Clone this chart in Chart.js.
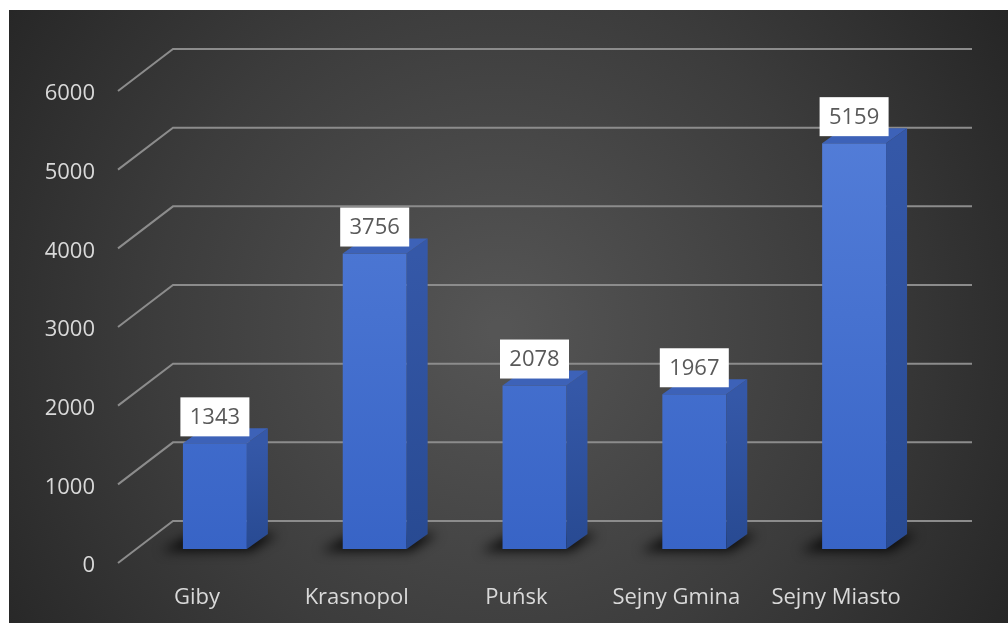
<!DOCTYPE html>
<html>
<head>
<meta charset="utf-8">
<script src="https://cdn.jsdelivr.net/npm/chart.js@4.4.1/dist/chart.umd.min.js"></script>
<style>
  html, body { margin: 0; padding: 0; background: #fff; }
  #wrap { position: relative; width: 1008px; height: 623px; }
</style>
</head>
<body>
<div id="wrap"><canvas id="c" width="1008" height="623"></canvas></div>
<script>
// ── Data ──────────────────────────────────────────────────────────────────────

const categories = ["Giby", "Krasnopol", "Puńsk", "Sejny Gmina", "Sejny Miasto"];
const values     = [1343, 3756, 2078, 1967, 5159];
const yTicks     = [0, 1000, 2000, 3000, 4000, 5000, 6000];

// ── Look ──────────────────────────────────────────────────────────────────────

const FONT   = "'Open Sans', 'Noto Sans', sans-serif";
const LABEL  = "#d9d9d9";
const GRID   = "#8c8c8c";
const DEPTH  = { dx: 21, dy: -15 };      // bar extrusion
const WALL   = { front: 14, back: -28, dx: 55 }; // floor/wall projection

// dark radial backdrop with white margin top/left
const backdrop = {
  id: "backdrop",
  beforeDraw(chart) {
    const { ctx, width, height } = chart;
    ctx.save();
    ctx.fillStyle = "#fff";
    ctx.fillRect(0, 0, width, height);
    const g = ctx.createRadialGradient(500, 330, 10, 500, 330, 620);
    g.addColorStop(0, "#555555");
    g.addColorStop(0.55, "#3c3c3c");
    g.addColorStop(1, "#242424");
    ctx.fillStyle = g;
    ctx.fillRect(9, 10, width - 9, height - 10);
    ctx.restore();
  },
};

// back-wall gridlines with the diagonal floor segment
const wallGrid = {
  id: "wallGrid",
  beforeDatasetsDraw(chart) {
    const { ctx } = chart;
    const y = chart.scales.y;
    const left = chart.chartArea.left;
    ctx.save();
    ctx.strokeStyle = GRID;
    ctx.lineWidth = 2;
    yTicks.forEach(v => {
      const p = y.getPixelForValue(v);
      ctx.beginPath();
      ctx.moveTo(left - 17, p + WALL.front);
      ctx.lineTo(left - 17 + WALL.dx, p + WALL.back);
      ctx.lineTo(972, p + WALL.back);
      ctx.stroke();
    });

    // soft shadows under the bars
    const meta = chart.getDatasetMeta(0);
    meta.data.forEach(bar => {
      const half = bar.width / 2;
      ctx.save();
      ctx.filter = "blur(6px)";
      ctx.fillStyle = "rgba(0,0,0,0.85)";
      ctx.beginPath();
      ctx.moveTo(bar.x - half - 22, bar.base + 2);
      ctx.lineTo(bar.x + half + 4, bar.base + 2);
      ctx.lineTo(bar.x + half + DEPTH.dx + 10, bar.base + DEPTH.dy);
      ctx.lineTo(bar.x - half + 10, bar.base + DEPTH.dy);
      ctx.closePath();
      ctx.fill();
      ctx.restore();
    });
    ctx.restore();
  },
};

// side + top faces and value boxes
const bars3d = {
  id: "bars3d",
  afterDatasetsDraw(chart) {
    const { ctx } = chart;
    const meta = chart.getDatasetMeta(0);
    ctx.save();
    meta.data.forEach((bar, i) => {
      const l = bar.x - bar.width / 2, r = bar.x + bar.width / 2;
      const t = bar.y, b = bar.base;

      const side = ctx.createLinearGradient(0, t, 0, b);
      side.addColorStop(0, "#3558a8");
      side.addColorStop(1, "#284a92");
      ctx.fillStyle = side;
      ctx.beginPath();
      ctx.moveTo(r, t);
      ctx.lineTo(r + DEPTH.dx, t + DEPTH.dy);
      ctx.lineTo(r + DEPTH.dx, b + DEPTH.dy);
      ctx.lineTo(r, b);
      ctx.closePath();
      ctx.fill();

      ctx.fillStyle = "#3d62b8";
      ctx.beginPath();
      ctx.moveTo(l, t);
      ctx.lineTo(l + DEPTH.dx, t + DEPTH.dy);
      ctx.lineTo(r + DEPTH.dx, t + DEPTH.dy);
      ctx.lineTo(r, t);
      ctx.closePath();
      ctx.fill();

      // value label box
      const bw = 69, bh = 39;
      ctx.fillStyle = "#fff";
      ctx.fillRect(bar.x - bw / 2, t - 7 - bh, bw, bh);
      ctx.fillStyle = "#595959";
      ctx.font = `22px ${FONT}`;
      ctx.textAlign = "center";
      ctx.textBaseline = "middle";
      ctx.fillText(String(values[i]), bar.x, t - 7 - bh / 2 + 1);
    });
    ctx.restore();
  },
};

// ── Chart ─────────────────────────────────────────────────────────────────────

const ctx = document.getElementById("c").getContext("2d");

function frontFill(context) {
  const { chart } = context;
  const area = chart.chartArea;
  if (!area) return "#4470d0";
  const el = context.element;
  const top = el && el.y != null ? el.y : area.top;
  const bottom = el && el.base != null ? el.base : area.bottom;
  const g = chart.ctx.createLinearGradient(0, top, 0, bottom);
  g.addColorStop(0, "#5680da");
  g.addColorStop(1, "#3864c6");
  return g;
}

new Chart(ctx, {
  type: "bar",
  data: {
    labels: categories,
    datasets: [{
      data: values,
      backgroundColor: frontFill,
      borderWidth: 0,
      barPercentage: 0.4,
      categoryPercentage: 1,
    }],
  },
  options: {
    responsive: false,
    animation: false,
    layout: { padding: { left: 0, right: 74, top: 77, bottom: 0 } },
    plugins: { legend: { display: false }, tooltip: { enabled: false } },
    scales: {
      x: {
        grid: { display: false, drawTicks: false },
        border: { display: false },
        ticks: { color: LABEL, font: { family: FONT, size: 22 }, padding: 36, labelOffset: -18 },
        afterFit: s => { s.height = 74; },
      },
      y: {
        min: 0,
        max: 6000,
        grid: { display: false, drawTicks: false },
        border: { display: false },
        ticks: {
          stepSize: 1000,
          color: LABEL,
          font: { family: FONT, size: 22 },
          padding: 40,
          labelOffset: 17,
          callback: v => String(v),
        },
        afterFit: s => { s.width = 135; },
      },
    },
  },
  plugins: [backdrop, wallGrid, bars3d],
});
</script>
</body>
</html>
